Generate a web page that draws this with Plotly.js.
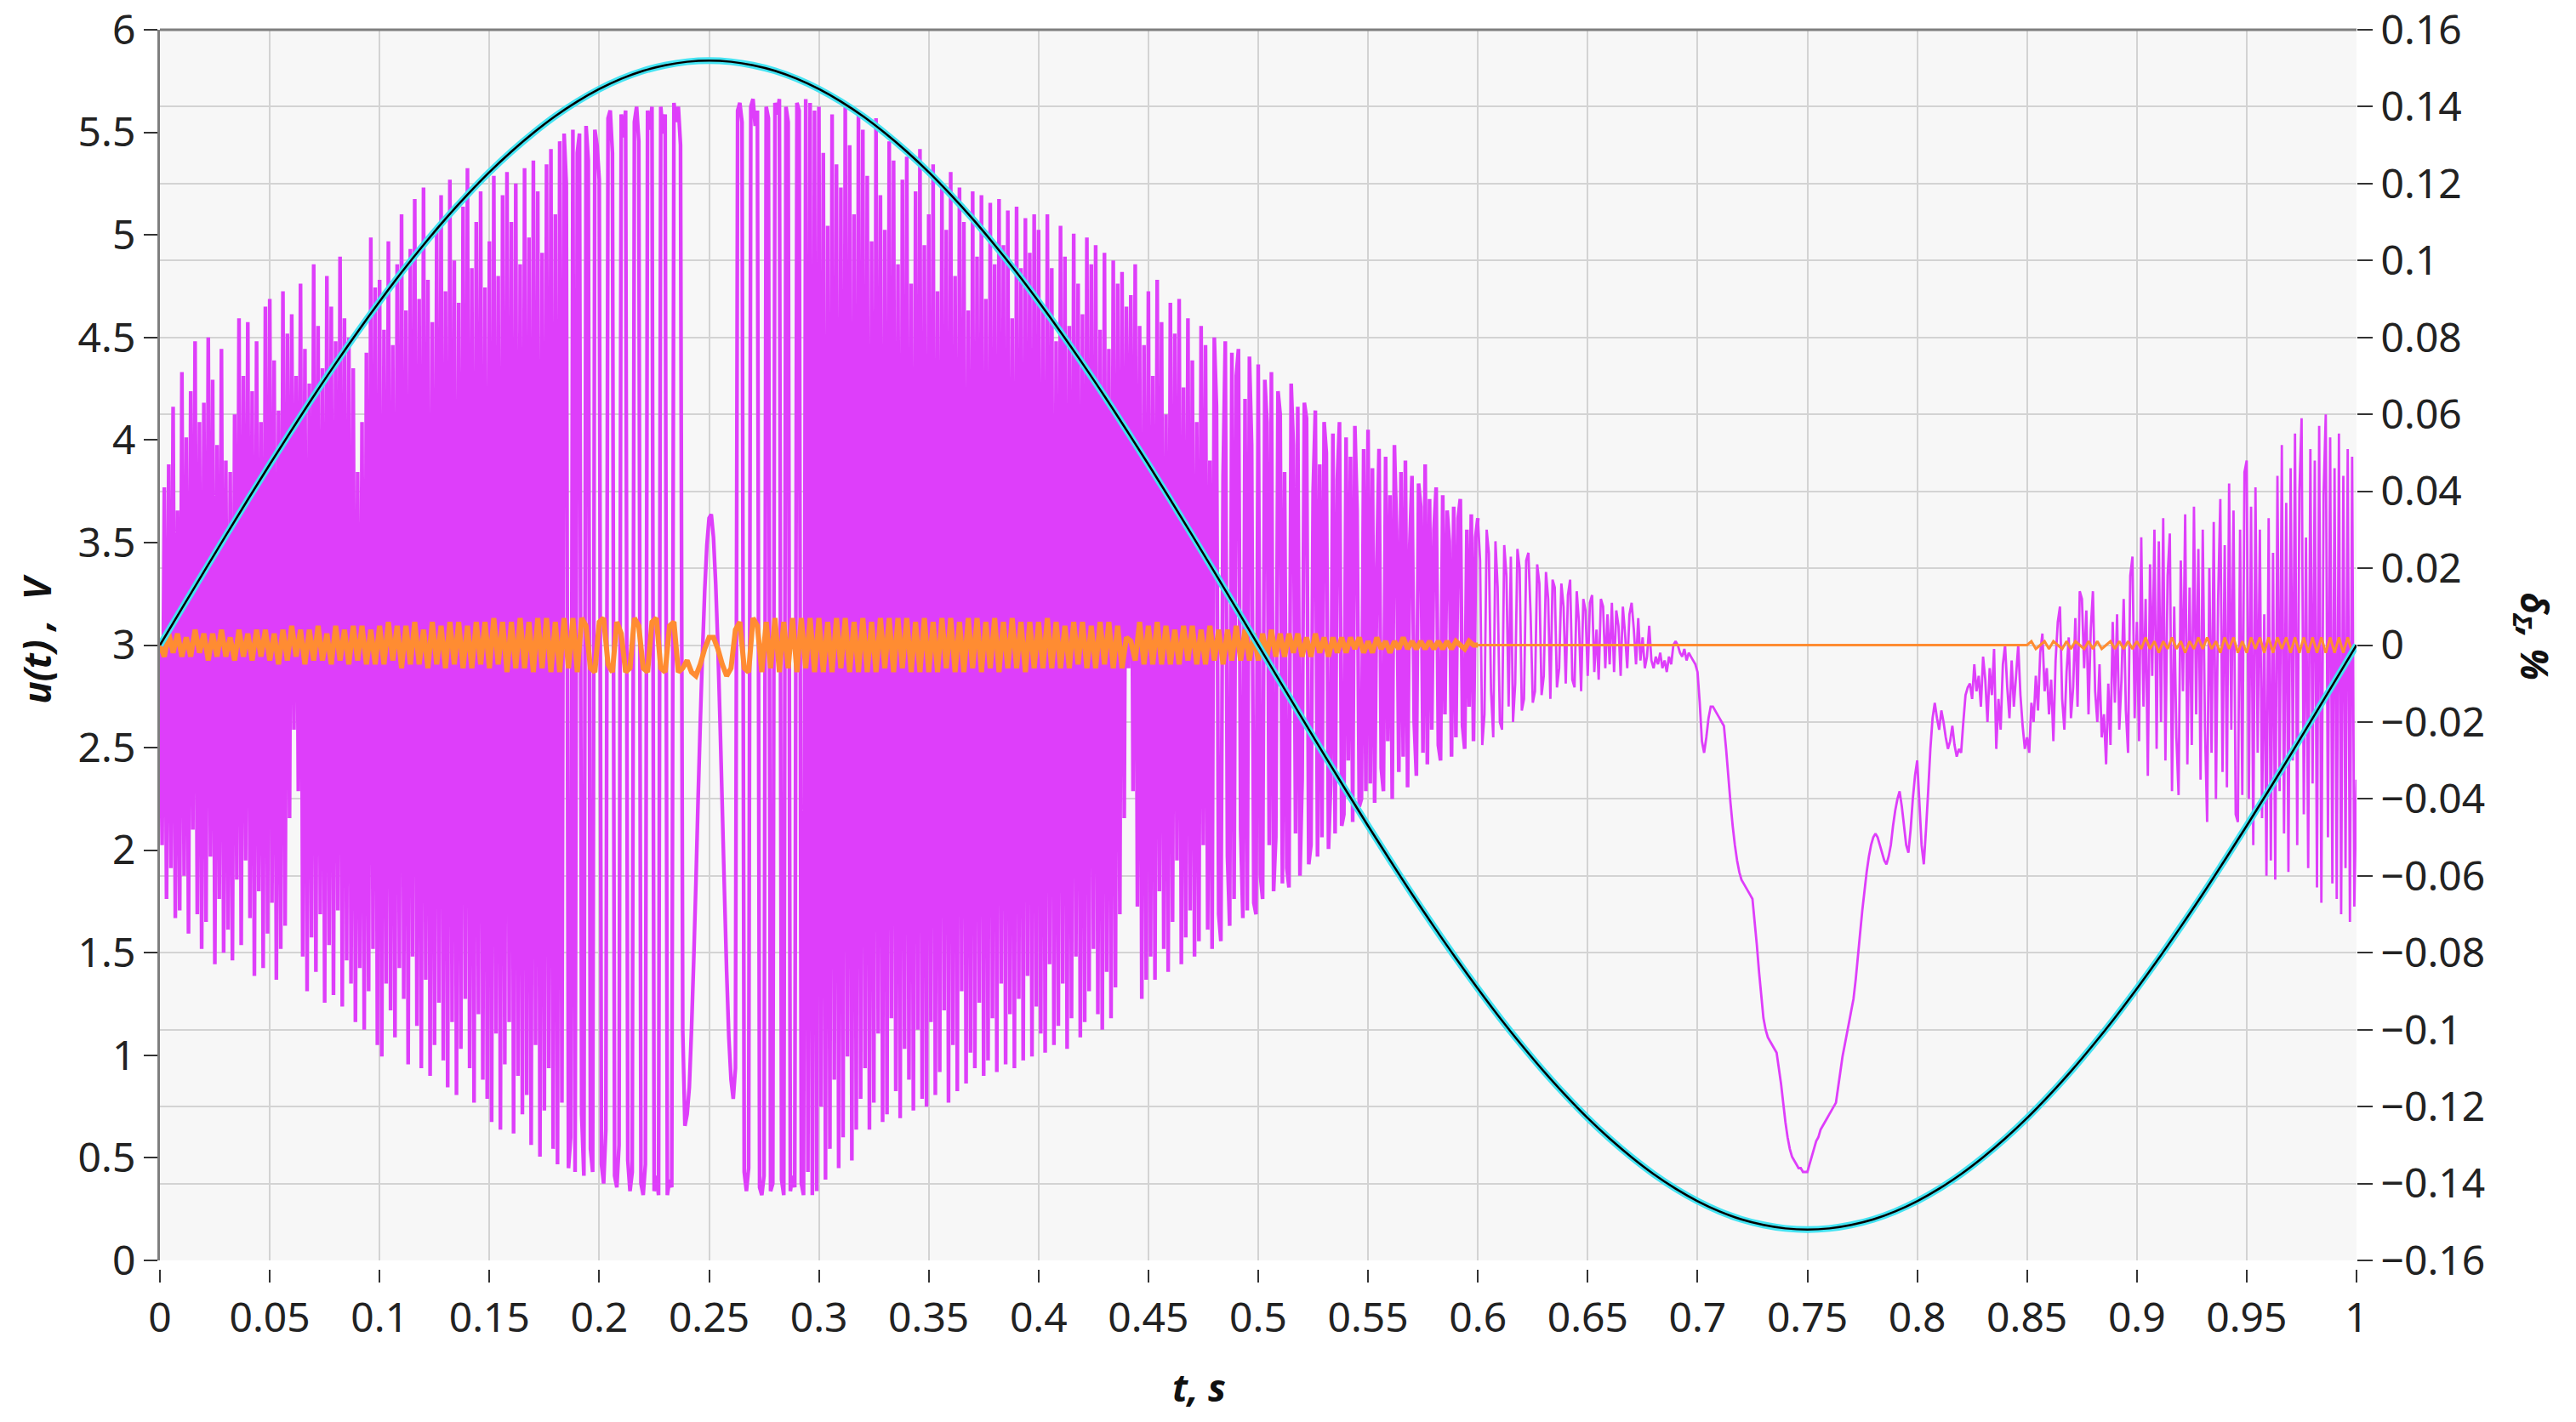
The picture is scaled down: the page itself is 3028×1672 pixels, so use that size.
<!DOCTYPE html>
<html>
<head>
<meta charset="utf-8">
<script src="https://cdn.plot.ly/plotly-3.0.1.min.js"></script>
<style>
  body { margin: 0; background: #fff; }
  #chart { width: 3028px; height: 1672px; }
</style>
</head>
<body>
<div id="chart"></div>
<script>
// sampling steps (s) and length of one data row
var sineStep = 0.01;
var deltaStep = 0.001;
var errStep = 0.002;
var rowSpan = 0.05;

// u(t), V  (left axis), t = 0 .. 1 s
var uSine = [
  3.000,3.179,3.357,3.534,3.709,3.881,4.049,4.214,4.373,4.527,
  4.675,4.817,4.951,5.078,5.196,5.306,5.406,5.497,5.579,5.650,
  5.711,5.761,5.800,5.827,5.844,5.850,5.844,5.827,5.800,5.761,
  5.711,5.650,5.579,5.497,5.406,5.306,5.196,5.078,4.951,4.817,
  4.675,4.527,4.373,4.214,4.049,3.881,3.709,3.534,3.357,3.179,
  3.000,2.821,2.643,2.466,2.291,2.119,1.951,1.786,1.627,1.473,
  1.325,1.183,1.049,0.922,0.804,0.694,0.594,0.503,0.421,0.350,
  0.289,0.239,0.200,0.173,0.156,0.150,0.156,0.173,0.200,0.239,
  0.289,0.350,0.421,0.503,0.594,0.694,0.804,0.922,1.049,1.183,
  1.325,1.473,1.627,1.786,1.951,2.119,2.291,2.466,2.643,2.821,
  3.000
];

// delta_Sigma, %  (magenta, right axis), one row per 0.05 s
var deltaRows = [
  [.000,-.052,.041,-.066,.047,-.058,.062,-.071,.035,-.069,
   .071,-.060,.054,-.075,.066,-.048,.079,-.070,.058,-.079,
   .063,-.072,.080,-.055,.069,-.083,.052,-.066,.077,-.080,
   .048,-.074,.045,-.082,.060,-.061,.085,-.078,.070,-.056,
   .084,-.071,.066,-.086,.079,-.064,.058,-.084,.088,-.075],
  [.090,-.067,.074,-.087,.061,-.079,.092,-.073,.081,-.045,
   .086,-.022,.070,-.038,.094,-.081,.077,-.090,.068,-.076,
   .099,-.085,.083,-.070,.072,-.093,.096,-.078,.088,-.091,
   .079,-.069,.101,-.094,.085,-.082,.080,-.088,.072,-.098,
   .045,-.084,.058,-.100,.076,-.090,.106,-.079,.093,-.104],
  [.095,-.107,.082,-.088,.105,-.095,.078,-.102,.099,-.084,
   .112,-.092,.087,-.109,.103,-.081,.116,-.099,.090,-.110,
   .119,-.087,.095,-.112,.084,-.104,.108,-.093,.117,-.108,
   .092,-.115,.121,-.098,.100,-.117,.089,-.105,.114,-.092,
   .124,-.110,.098,-.119,.110,-.096,.118,-.113,.093,-.118],
  [.105,-.124,.122,-.101,.096,-.126,.117,-.109,.123,-.098,
   .110,-.127,.120,-.112,.099,-.122,.124,-.117,.106,-.130,
   .126,-.104,.118,-.133,.102,-.121,.125,-.110,.129,-.131,
   .112,-.135,.131,-.119,.133,.120,-.136,-.128,.134,-.137,
   .128,.133,-.122,-.138,.135,.126,-.131,-.137,.134,.130],
  [.121,-.135,-.140,-.126,.137,.139,.128,-.138,-.141,-.130,
   .138,.132,.139,-.134,-.142,-.137,.136,.140,.131,-.140,
   -.143,-.135,.139,.134,.140,-.142,-.138,-.143,.140,.133,
   .138,-.143,-.139,-.141,.141,.136,.140,.130,-.100,-.125,
   -.122,-.115,-.100,-.082,-.062,-.040,-.020,-.002,.014,.026],
  [.033,.034,.028,.016,.000,-.020,-.042,-.064,-.085,-.102,
   -.113,-.118,-.110,.139,.141,.136,-.137,-.142,-.136,.140,
   .142,.135,.139,-.141,-.143,-.138,.140,.137,-.142,-.140,
   .141,.138,.142,-.139,-.143,.140,.136,-.142,-.138,-.141,
   .141,.139,-.140,-.143,.142,-.137,.141,-.143,.139,-.142],
  [.140,-.120,.128,-.139,.109,-.131,.138,-.113,.125,-.136,
   .119,-.128,.141,-.107,.130,-.134,.112,-.126,.139,-.118,
   .134,-.110,.122,-.126,.105,-.119,.137,-.101,.117,-.124,
   .108,-.122,.131,-.097,.126,-.116,.099,-.123,.121,-.105,
   .127,-.113,.094,-.121,.118,-.100,.129,-.118,.104,-.120],
  [.112,-.098,.125,-.117,.092,-.111,.120,-.095,.108,-.119,
   .123,-.104,.096,-.116,.119,-.090,.110,-.114,.087,-.106,
   .118,-.110,.101,-.093,.117,-.112,.090,-.108,.115,-.097,
   .099,-.111,.116,-.088,.104,-.109,.113,-.096,.085,-.110,
   .114,-.092,.098,-.108,.111,-.086,.102,-.107,.112,-.094],
  [.108,-.101,.087,-.106,.112,-.083,.098,-.104,.079,-.099,
   .109,-.088,.101,-.105,.083,-.097,.107,-.081,.094,-.102,
   .086,-.098,.106,-.090,.099,-.079,.104,-.096,.082,-.100,
   .102,-.085,.077,-.097,.100,-.089,.094,-.070,.097,-.045,
   .088,-.006,.091,-.038,.099,-.068,.083,-.092,.078,-.087],
  [.092,-.081,.070,-.087,.095,-.064,.084,-.079,.060,-.085,
   .089,-.072,.081,-.056,.090,-.083,.067,-.076,.085,-.069,
   .074,-.081,.058,-.077,.083,-.052,.078,-.074,.048,-.079,
   .080,.062,-.070,-.077,.044,.079,-.055,-.073,.076,-.066,
   .070,.077,-.048,-.071,.064,-.069,.075,.052,-.067,-.070],
  [.073,-.060,-.066,.069,.058,-.052,.071,-.064,-.050,.066,
   .060,-.062,.045,-.058,-.063,.068,.052,-.049,.062,-.060,
   -.035,.063,.059,-.057,-.052,.040,.061,-.055,.047,-.050,
   .058,.050,-.053,-.036,.055,-.049,.043,.058,-.047,-.044,
   .054,-.030,.049,-.046,.057,.035,-.042,-.040,.051,-.038],
  [.056,-.036,.046,-.041,.020,.051,-.032,-.038,.049,-.025,
   .039,-.040,.052,.030,-.033,.045,-.029,.048,-.037,.026,
   .044,-.020,-.034,.042,.036,-.028,.047,-.031,.038,-.022,
   .030,.041,-.026,-.030,.039,-.018,.035,.027,-.029,.036,
   -.024,.033,.038,-.021,-.027,.030,-.016,.034,-.025,.028],
  [.033,.022,-.026,-.018,.030,.024,-.012,-.024,.027,.015,
   -.020,-.022,.026,.018,-.016,.023,-.020,-.010,.025,.020,
   -.017,-.014,.022,.024,.008,-.015,-.012,.021,.016,-.013,
   -.008,.019,.012,-.014,.017,.015,-.011,-.006,.016,.010,
   -.010,.013,.017,-.009,-.011,.014,.006,-.012,.012,.009],
  [-.008,.011,.013,-.007,.004,-.009,.012,.010,-.006,.008,
   -.005,.011,-.007,.009,.005,-.008,.010,.003,-.006,.008,
   .011,.004,-.005,.007,-.004,.002,-.006,-.003,.005,-.004,
   -.006,-.003,-.005,-.002,-.006,-.004,-.007,-.003,-.005,.000,
   .001,.000,-.002,-.003,-.001,-.004,-.002,-.003,-.004,-.005],
  [-.007,-.015,-.025,-.028,-.024,-.019,-.016,-.016,-.017,-.018,
   -.019,-.020,-.021,-.027,-.034,-.041,-.047,-.052,-.056,-.059,
   -.061,-.062,-.063,-.064,-.065,-.066,-.072,-.078,-.085,-.091,
   -.097,-.100,-.102,-.103,-.104,-.105,-.106,-.110,-.114,-.119,
   -.124,-.128,-.131,-.133,-.134,-.135,-.136,-.136,-.137,-.137],
  [-.137,-.135,-.133,-.131,-.129,-.128,-.126,-.125,-.124,-.123,
   -.122,-.121,-.120,-.119,-.115,-.111,-.107,-.104,-.101,-.098,
   -.095,-.092,-.087,-.081,-.075,-.069,-.064,-.059,-.055,-.052,
   -.050,-.049,-.050,-.052,-.054,-.056,-.057,-.055,-.052,-.047,
   -.043,-.040,-.038,-.042,-.047,-.052,-.054,-.048,-.040,-.034],
  [-.030,-.041,-.052,-.057,-.048,-.038,-.027,-.019,-.015,-.019,
   -.022,-.017,-.020,-.024,-.027,-.025,-.021,-.026,-.029,-.027,
   -.028,-.020,-.013,-.011,-.010,-.014,-.005,-.012,-.008,-.016,
   -.003,-.009,-.020,-.006,-.013,-.001,-.027,-.014,-.022,-.005,
   .000,-.011,-.019,-.004,-.016,-.008,.000,-.013,-.021,-.027],
  [-.024,-.028,-.015,-.020,-.008,-.017,-.002,.003,-.012,-.006,
   -.018,-.009,-.025,-.004,.006,.010,-.014,-.022,-.007,.002,
   -.019,-.011,.007,-.016,.014,.012,-.006,.009,-.018,.004,
   .014,-.012,-.020,-.005,-.024,-.018,-.031,-.010,-.026,.006,
   -.015,.008,-.022,-.009,.012,-.017,-.028,.018,.023,-.019],
  [.006,-.025,.028,-.016,.012,-.034,.021,-.008,.030,-.027,
   .027,-.020,.033,-.030,.018,.029,-.038,.010,-.024,-.039,
   .022,-.012,.034,-.031,.015,-.026,.036,-.018,.025,-.035,
   .030,-.021,-.046,.020,-.028,.032,-.040,.012,.038,-.033,
   .026,-.037,.042,-.022,.035,-.044,-.046,.030,-.039,.045],
  [.048,-.040,.036,-.052,.041,-.028,.030,-.045,.008,-.060,
   .033,-.056,.024,-.061,.044,-.038,.052,-.049,.037,-.059,
   .046,-.030,.055,-.052,.040,.059,-.044,.028,-.058,.051,
   -.036,.048,-.063,.057,-.067,.039,.060,-.050,.054,-.062,
   .046,-.066,.055,-.070,.044,-.058,.051,-.072,.049,-.068],
  [-.035]
];

// second error curve, %  (orange, right axis), one row per 0.05 s
var errRows = [
  [.000,-.003,.003,-.002,.003, -.003,.002,-.003,.004,-.002, .003,-.004,.003,-.003,.004, -.003,.002,-.004,.004,-.003, .003,-.004,.004,-.003,.004],
  [-.004,.003,-.005,.004,-.004, .005,-.003,.004,-.005,.004, -.004,.005,-.004,.003,-.005, .005,-.004,.004,-.005,.005, -.004,.005,-.005,.004,-.005],
  [.005,-.005,.006,-.004,.005, -.006,.005,-.005,.006,-.005, .004,-.006,.006,-.005,.005, -.006,.006,-.005,.006,-.006, .005,-.006,.006,-.005,.006],
  [-.006,.007,-.005,.006,-.007, .006,-.006,.007,-.006,.006, -.007,.007,-.006,.007,-.007, .006,-.007,.007,-.006,.007, -.007,.007,.005,-.006,-.007],
  [.006,.007,-.005,-.007,.006, .003,-.007,-.006,.007,.005, -.006,-.007,.006,.007,-.006, -.007,.005,.006,-.007,-.006, -.004,-.007,-.008,-.005,-.001],
  [.002,.002,-.001,-.005,-.008, -.006,.004,.006,-.006,-.007, .007,.005,-.007,.006,-.006, .007,-.007,.006,-.006,.007, -.007,.007,-.006,.007,-.007],
  [.007,-.007,.006,-.007,.007, -.006,.007,-.007,.006,-.007, .007,-.007,.006,-.007,.007, -.006,.007,-.007,.007,-.006, .007,-.007,.006,-.007,.007],
  [-.007,.006,-.007,.007,-.006, .007,-.007,.006,-.007,.007, -.006,.007,-.007,.006,-.006, .007,-.007,.006,-.006,.007, -.006,.006,-.007,.006,-.006],
  [.006,-.006,.007,-.006,.006, -.006,.005,-.006,.006,-.005, .006,-.006,.005,-.006,.006, -.005,.006,-.006,.005,-.006, .002,.001,-.004,.006,-.005],
  [.005,-.005,.006,-.005,.005, -.005,.004,-.005,.005,-.004, .005,-.005,.004,-.005,.005, -.004,.004,-.005,.004,-.004, .005,-.004,.004,-.004,.003],
  [-.004,.003,-.003,.004,-.003, .003,-.003,.003,-.002,.003, -.003,.002,-.003,.003,-.002, .002,-.003,.002,-.002,.002, -.002,.002,-.001,.002,-.002],
  [.001,-.002,.002,-.001,.001, -.002,.001,-.001,.002,-.001, .001,-.001,.001,-.001,.001, -.001,.001,-.001,.001,-.001, .001,0,-.001,.001,0],
  [0,0,0,0,0, 0,0,0,0,0, 0,0,0,0,0, 0,0,0,0,0, 0,0,0,0,0],
  [0,0,0,0,0, 0,0,0,0,0, 0,0,0,0,0, 0,0,0,0,0, 0,0,0,0,0],
  [0,0,0,0,0, 0,0,0,0,0, 0,0,0,0,0, 0,0,0,0,0, 0,0,0,0,0],
  [0,0,0,0,0, 0,0,0,0,0, 0,0,0,0,0, 0,0,0,0,0, 0,0,0,0,0],
  [0,0,0,0,0, 0,0,0,0,0, 0,0,0,0,0, 0,0,0,0,0, 0,0,0,0,0],
  [0,.001,-.001,0,.001, -.001,.001,0,-.001,.001, -.001,.001,0,-.001,.001, -.001,.001,-.001,0,.001, -.001,.001,-.001,.001,-.001],
  [.001,-.001,.002,-.001,.001, -.002,.001,-.001,.002,-.001, .001,-.002,.001,-.001,.002, -.001,.002,-.001,.001,-.002, .002,-.001,.002,-.002,.001],
  [-.002,.002,-.001,.002,-.002, .002,-.002,.002,-.001,.002, -.002,.002,-.002,.002,-.002, .002,-.002,.002,-.002,.002, -.002,.002,-.002,.002,-.002],
  [0]
];

// sample times for rows [from, to) of a row-by-row record; the first
// sample of row `to` is kept so that two pieces join without a gap
function rowsToXY(rows, step, from, to) {
    var x = [], y = [];
    for (var k = from; k < to && k < rows.length; k++) {
        for (var j = 0; j < rows[k].length; j++) {
            x.push(+(k * rowSpan + j * step).toFixed(4));
            y.push(rows[k][j]);
        }
    }
    if (to < rows.length) {
        x.push(+(to * rowSpan).toFixed(4));
        y.push(rows[to][0]);
    }
    return { x: x, y: y };
}

// dense part (up to 0.6 s) is drawn with a heavier pen so it fills in
var splitRow = 12;
var deltaDense = rowsToXY(deltaRows, deltaStep, 0, splitRow);
var deltaQuiet = rowsToXY(deltaRows, deltaStep, splitRow, deltaRows.length);
var errDense = rowsToXY(errRows, errStep, 0, splitRow);
var errQuiet = rowsToXY(errRows, errStep, splitRow, errRows.length);

var font = 'Noto Sans, Open Sans, sans-serif';
var gridColor = '#d3d3d3';
var magenta = 'rgb(222,62,250)';
var orange = 'rgb(255,140,50)';

function lineTrace(xy, color, width, axis) {
    return {
        x: xy.x, y: xy.y, yaxis: axis,
        type: 'scatter', mode: 'lines',
        line: { color: color, width: width, simplify: false },
        hoverinfo: 'skip'
    };
}

// the sine is drawn twice: wide cyan under a thin black line
var sineCyan = {
    y: uSine, x0: 0, dx: sineStep, yaxis: 'y2',
    type: 'scatter', mode: 'lines',
    line: { color: '#45e3f2', width: 8, shape: 'spline' },
    hoverinfo: 'skip'
};

var sineBlack = {
    y: uSine, x0: 0, dx: sineStep, yaxis: 'y2',
    type: 'scatter', mode: 'lines',
    line: { color: '#000000', width: 2.5, shape: 'spline' },
    hoverinfo: 'skip'
};

var data = [
    lineTrace(deltaDense, magenta, 4.4, 'y'),
    lineTrace(deltaQuiet, magenta, 2.8, 'y'),
    lineTrace(errDense, orange, 6, 'y'),
    lineTrace(errQuiet, orange, 3, 'y'),
    sineCyan,
    sineBlack
];

var tickFont = { family: font, size: 48, color: '#222' };
var titleFont = { family: font, size: 44, color: '#111' };

var layout = {
    width: 3028,
    height: 1672,
    autosize: false,
    showlegend: false,
    paper_bgcolor: '#ffffff',
    plot_bgcolor: '#f7f7f7',
    margin: { l: 188, r: 258, t: 35, b: 180, pad: 0 },
    xaxis: {
        range: [0, 1],
        tick0: 0,
        dtick: 0.05,
        anchor: 'free',
        position: 0,
        showline: false,
        zeroline: false,
        showgrid: true,
        gridcolor: gridColor,
        gridwidth: 2,
        ticks: 'outside',
        ticklen: 15,
        tickwidth: 2,
        tickcolor: '#333',
        tickfont: tickFont
    },
    // delta axis on the right carries the horizontal grid
    yaxis: {
        domain: [0.00686, 1],
        side: 'right',
        range: [-0.16, 0.16],
        tick0: 0,
        dtick: 0.02,
        showgrid: true,
        gridcolor: gridColor,
        gridwidth: 2,
        zeroline: false,
        showline: false,
        ticks: 'outside',
        ticklen: 18,
        tickwidth: 2,
        tickcolor: '#333',
        tickfont: tickFont
    },
    yaxis2: {
        overlaying: 'y',
        side: 'left',
        range: [0, 6],
        tick0: 0,
        dtick: 0.5,
        showgrid: false,
        zeroline: false,
        showline: true,
        linecolor: '#7f7f7f',
        linewidth: 3,
        ticks: 'outside',
        ticklen: 16,
        tickwidth: 2,
        tickcolor: '#333',
        tickfont: tickFont
    },
    shapes: [{
        type: 'line', xref: 'paper', yref: 'paper',
        x0: 0, x1: 1, y0: 1, y1: 1,
        line: { color: '#7f7f7f', width: 3 }
    }],
    annotations: [
        {
            text: '<b><i>t, s</i></b>',
            xref: 'paper', yref: 'paper', x: 0.473, y: -0.0954,
            xanchor: 'center', yanchor: 'middle', showarrow: false,
            font: titleFont
        },
        {
            text: '<b><i>u(t) ,&nbsp;&nbsp;V</i></b>',
            xref: 'paper', yref: 'paper', x: -0.0562, y: 0.508,
            xanchor: 'center', yanchor: 'middle', showarrow: false,
            textangle: -90,
            font: titleFont
        },
        {
            text: '<b><i>δ<sub>Σ</sub>, %</i></b>',
            xref: 'paper', yref: 'paper', x: 1.0805, y: 0.5106,
            xanchor: 'center', yanchor: 'middle', showarrow: false,
            textangle: 90,
            font: titleFont
        }
    ]
};

Plotly.newPlot('chart', data, layout, { staticPlot: true, displayModeBar: false });
</script>
</body>
</html>
